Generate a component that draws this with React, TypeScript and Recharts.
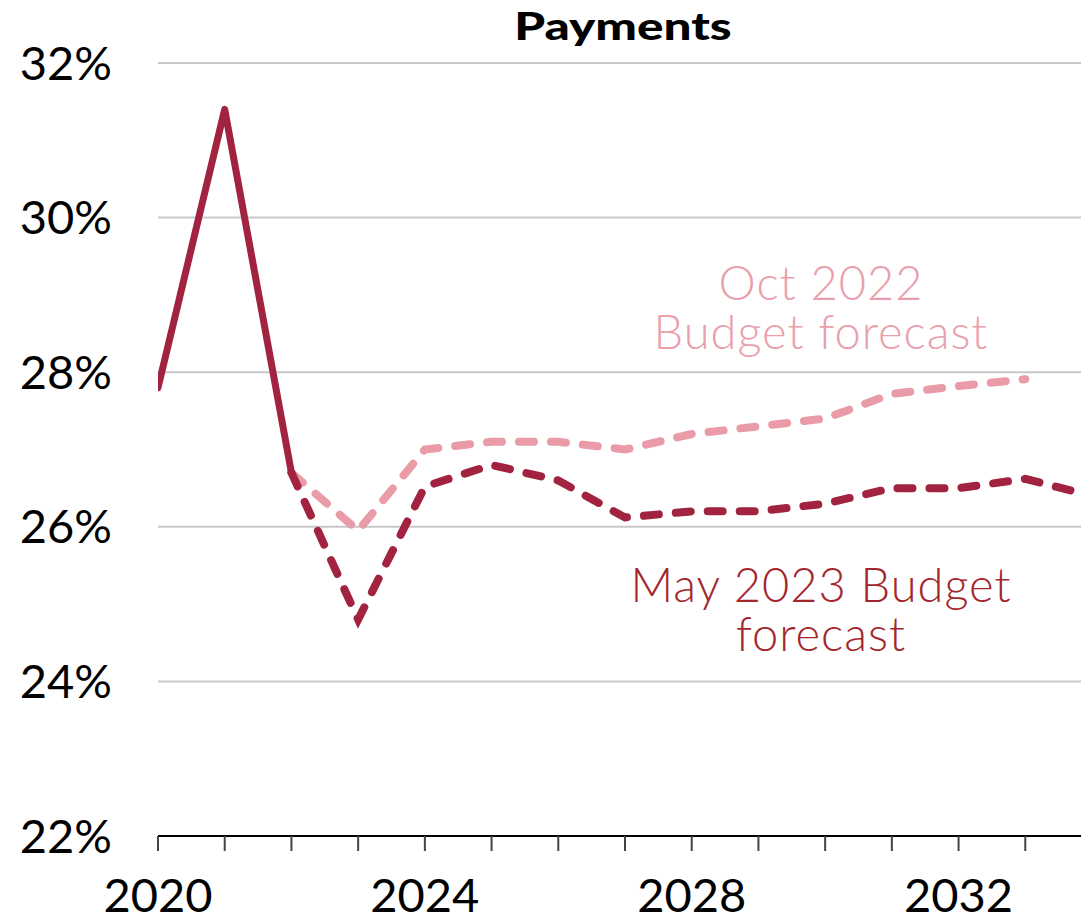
import { CartesianGrid, Line, LineChart, XAxis, YAxis } from "recharts";

const actualYears = [2020, 2021, 2022];
const actualValues = [27.8, 31.4, 26.7];

const mayYears = [2022, 2023, 2024, 2025, 2026, 2027, 2028, 2029, 2030, 2031, 2032, 2033, 2034];
const mayValues = [26.7, 24.8, 26.52, 26.8, 26.6, 26.12, 26.2, 26.2, 26.3, 26.5, 26.5, 26.62, 26.4];

const octYears = [2022, 2023, 2024, 2025, 2026, 2027, 2028, 2029, 2030, 2031, 2032, 2033];
const octValues = [26.7, 25.95, 27.0, 27.1, 27.1, 27.0, 27.2, 27.3, 27.4, 27.72, 27.82, 27.91];

const xTicks = [2020, 2021, 2022, 2023, 2024, 2025, 2026, 2027, 2028, 2029, 2030, 2031, 2032, 2033, 2034];
const labelledYears = [2020, 2024, 2028, 2032];
const yTicks = [22, 24, 26, 28, 30, 32];

const DARK = "#a2233f";
const PINK = "#e99ba8";
const FONT = "Lato, 'Open Sans', sans-serif";

const zip = (years: number[], values: number[]) =>
  years.map((year, i) => ({ year, value: values[i] }));

function YearTick({ x, y, payload }: any) {
  if (!labelledYears.includes(payload.value)) return null;
  return (
    <text x={x} y={y} dy={61} textAnchor="middle" fontSize={47} fill="#000" fontFamily={FONT}>
      {payload.value}
    </text>
  );
}

const noteStyle = {
  position: "absolute" as const,
  left: 621,
  width: 400,
  textAlign: "center" as const,
  fontSize: 47,
  fontWeight: 300,
  lineHeight: "49px",
  letterSpacing: 1,
};

export default function App() {
  return (
    <div style={{ position: "relative", margin: "-8px 0 0 -8px", width: 1100, height: 917, fontFamily: FONT }}>
      <div
        style={{
          position: "absolute",
          left: 423,
          width: 400,
          top: 6,
          textAlign: "center",
          fontSize: 38,
          lineHeight: "38px",
          fontWeight: 900,
          transform: "scaleX(1.3)",
        }}
      >
        Payments
      </div>
      <div style={{ ...noteStyle, top: 258, color: "#e9a0ac" }}>
        Oct 2022
        <br />
        Budget forecast
      </div>
      <div style={{ ...noteStyle, top: 560, color: "#a3262d" }}>
        May 2023 Budget
        <br />
        forecast
      </div>
      <LineChart width={1100} height={917} margin={{ top: 63, right: 8, bottom: 0, left: 0 }}>
        <CartesianGrid horizontal vertical={false} stroke="#c8c8c8" strokeWidth={2} />
        <XAxis
          type="number"
          dataKey="year"
          domain={[2020, 2034]}
          ticks={xTicks}
          interval={0}
          height={81}
          tickSize={15}
          tickMargin={0}
          axisLine={{ stroke: "#000", strokeWidth: 2 }}
          tickLine={{ stroke: "#444", strokeWidth: 2 }}
          tick={<YearTick />}
          allowDataOverflow
        />
        <YAxis
          type="number"
          domain={[22, 32]}
          ticks={yTicks}
          width={158}
          axisLine={false}
          tickLine={false}
          tickMargin={40}
          tickFormatter={(v: number) => `${v}%`}
          tick={{ fontSize: 47, fill: "#000", fontFamily: FONT }}
        />
        <Line
          data={zip(octYears, octValues)}
          dataKey="value"
          type="linear"
          stroke={PINK}
          strokeWidth={8}
          strokeDasharray="15 17"
          strokeLinecap="round"
          dot={false}
          isAnimationActive={false}
        />
        <Line
          data={zip(mayYears, mayValues)}
          dataKey="value"
          type="linear"
          stroke={DARK}
          strokeWidth={8}
          strokeDasharray="15 17"
          strokeLinecap="round"
          dot={false}
          isAnimationActive={false}
        />
        <Line
          data={zip(actualYears, actualValues)}
          dataKey="value"
          type="linear"
          stroke={DARK}
          strokeWidth={7}
          strokeLinecap="round"
          strokeLinejoin="round"
          dot={false}
          isAnimationActive={false}
        />
      </LineChart>
    </div>
  );
}
